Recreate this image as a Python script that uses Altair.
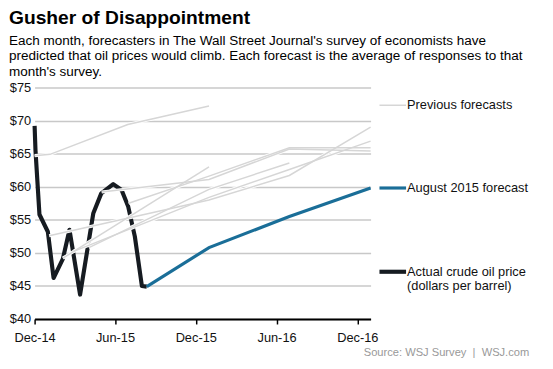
import altair as alt
import pandas as pd

# ---------------- data ----------------
actual_dates = ["2014-12-01", "2014-12-03", "2014-12-12", "2014-12-31", "2015-01-13",
                "2015-02-03", "2015-02-18", "2015-03-14", "2015-04-13", "2015-05-01",
                "2015-05-28", "2015-06-16", "2015-07-01", "2015-07-16", "2015-08-01",
                "2015-08-12"]
actual_prices = [69.2, 65.5, 55.8, 53.2, 46.2, 49.1, 53.5, 43.7, 56.0, 59.0,
                 60.4, 59.5, 57.0, 52.5, 45.0, 44.9]

aug_dates = ["2015-08-12", "2015-12-31", "2016-06-30", "2016-12-31"]
aug_prices = [44.9, 50.8, 55.5, 59.8]

dec14_dates = ["2014-12-01", "2015-01-05", "2015-06-30", "2015-12-31"]
dec14_prices = [64.7, 64.9, 69.4, 72.2]
jan15_dates = ["2015-01-03", "2015-12-31", "2016-06-30", "2016-12-31"]
jan15_prices = [52.6, 58.0, 61.7, 69.0]
feb15_dates = ["2015-02-03", "2015-12-31"]
feb15_prices = [49.2, 63.0]
mar15_dates = ["2015-02-26", "2015-12-31", "2016-06-30", "2016-12-31"]
mar15_prices = [50.2, 58.4, 62.6, 66.9]
apr15_dates = ["2015-04-03", "2015-12-31", "2016-06-30"]
apr15_prices = [50.8, 59.6, 63.6]
may15_dates = ["2015-05-02", "2015-12-31", "2016-06-30", "2016-12-31"]
may15_prices = [59.2, 61.1, 65.7, 65.4]
jun15_dates = ["2015-07-02", "2015-12-31", "2016-06-30", "2016-12-31"]
jun15_prices = [57.5, 61.6, 65.9, 65.9]

y_ticks = [40, 45, 50, 55, 60, 65, 70, 75]

title_text = "Gusher of Disappointment"
subtitle_lines = [
    "Each month, forecasters in The Wall Street Journal's survey of economists have",
    "predicted that oil prices would climb. Each forecast is the average of responses to that",
    "month's survey.",
]
legend_prev = "Previous forecasts"
legend_aug = "August 2015 forecast"
legend_actual = ["Actual crude oil price", "(dollars per barrel)"]
source_text = "Source: WSJ Survey\u00a0\u00a0|\u00a0\u00a0WSJ.com"

# ---------------- one long table ----------------
rows = []
for d, p in zip(actual_dates, actual_prices):
    rows.append({"kind": "actual", "series": "actual", "date": d, "price": p})
for d, p in zip(aug_dates, aug_prices):
    rows.append({"kind": "aug", "series": "aug", "date": d, "price": p})
for name, ds, ps in [("Dec-14", dec14_dates, dec14_prices), ("Jan-15", jan15_dates, jan15_prices),
                     ("Feb-15", feb15_dates, feb15_prices), ("Mar-15", mar15_dates, mar15_prices),
                     ("Apr-15", apr15_dates, apr15_prices), ("May-15", may15_dates, may15_prices),
                     ("Jun-15", jun15_dates, jun15_prices)]:
    for d, p in zip(ds, ps):
        rows.append({"kind": "prev", "series": name, "date": d, "price": p})
df = pd.DataFrame(rows)

FONT = "Liberation Sans"
BLACK = "#161b21"
BLUE = "#1a6e98"
GREY = "#d6d6d6"


def dt(y, m, d):
    return alt.DateTime(year=y, month=m, date=d, utc=True)


tick_values = [dt(2014, 12, 1), dt(2015, 6, 1), dt(2015, 12, 1), dt(2016, 6, 1), dt(2016, 12, 1)]

x_enc = alt.X("date:T",
              scale=alt.Scale(type="utc", domain=[dt(2014, 12, 1), dt(2016, 12, 31)]),
              axis=alt.Axis(values=tick_values, format="%b-%y", title=None, grid=False,
                            domainColor="#000", domainWidth=2, tickColor="#000", tickWidth=1.5,
                            tickSize=5, labelFontSize=13, labelColor="#111", labelFont=FONT,
                            labelPadding=8, labelFlush=False, labelOverlap=False, zindex=1))
y_enc = alt.Y("price:Q",
              scale=alt.Scale(domain=[40, 75], nice=False, zero=False),
              axis=alt.Axis(values=y_ticks, tickCount=8, title=None, domain=False, ticks=False,
                            labelExpr="'$' + datum.value", labelFontSize=13, labelColor="#111",
                            labelFont=FONT, labelPadding=4, labelOverlap=False, labelFlush=False,
                            gridColor="#c8c8c8", gridWidth=1.4))

base = alt.Chart(df).encode(x=x_enc, y=y_enc)

actual_line = base.transform_filter(alt.datum.kind == "actual").mark_line(
    color=BLACK, strokeWidth=4.2, strokeJoin="round")
prev_halo = base.transform_filter(alt.datum.kind == "prev").mark_line(
    color="white", strokeWidth=3.2).encode(detail="series:N")
prev_line = base.transform_filter(alt.datum.kind == "prev").mark_line(
    color=GREY, strokeWidth=1.5).encode(detail="series:N")
aug_line = base.transform_filter(alt.datum.kind == "aug").mark_line(
    color=BLUE, strokeWidth=3.2)


# legend-like annotations at the right
def sample(y, color, width):
    return alt.Chart(pd.DataFrame({"k": [0]})).mark_rule(color=color, strokeWidth=width).encode(
        x=alt.value(350), x2=alt.value(377), y=alt.value(y))


def label(text, y, color="#111", x=378, size=13, align="left"):
    return alt.Chart(pd.DataFrame({"t": [text]})).mark_text(
        align=align, baseline="middle", font=FONT, fontSize=size, color=color).encode(
        x=alt.value(x), y=alt.value(y), text="t:N")


annot = [sample(18, GREY, 1.5), label(legend_prev, 18),
         sample(102, BLUE, 3.2), label(legend_aug, 102),
         sample(187, BLACK, 4.2), label(legend_actual[0], 187), label(legend_actual[1], 202),
         label(source_text, 269, color="#999999", x=502, size=11.3, align="right")]

chart = alt.layer(actual_line, prev_halo, prev_line, aug_line, *annot).properties(
    width=341, height=235,
    autosize=alt.AutoSizeParams(type="none"),
    padding={"left": 27, "top": 78, "right": 177, "bottom": 48},
    title=alt.TitleParams(text=title_text, subtitle=subtitle_lines, anchor="start", frame="group",
                          dx=-26, offset=2, font=FONT, fontSize=19.5, fontWeight="bold",
                          color="#000", subtitleFont=FONT, subtitleFontSize=13.7,
                          subtitleColor="#000", subtitleLineHeight=15.8, subtitlePadding=6),
).configure_view(stroke=None)

chart.save("out.html", embed_options={"renderer": "svg", "actions": False})
